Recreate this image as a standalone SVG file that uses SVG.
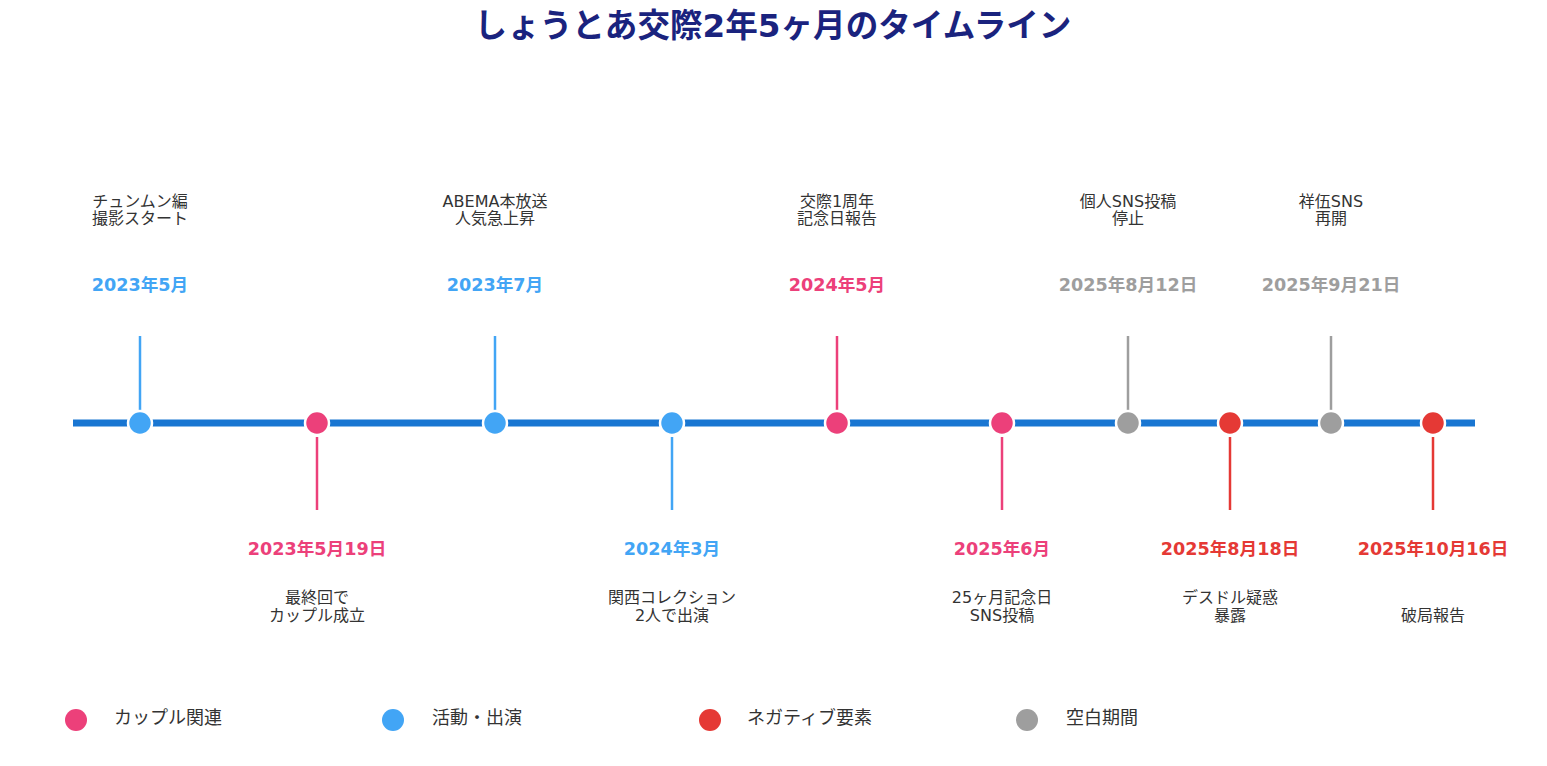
<svg xmlns="http://www.w3.org/2000/svg" width="1547" height="766" viewBox="0 0 1547 766">
<style>
text{font-family:"DejaVu Sans","Noto Sans CJK JP",sans-serif;text-anchor:middle}
.title{font-size:32.6px;font-weight:bold;fill:#1A237E}
.date{font-size:17.6px;font-weight:bold}
.desc{font-size:16px;fill:#333}
.leg{font-size:18px;fill:#333;text-anchor:start}
.pink{fill:#EC407A}.blue{fill:#42A5F5}.red{fill:#E53935}.gray{fill:#9E9E9E}
.spink{stroke:#EC407A}.sblue{stroke:#42A5F5}.sred{stroke:#E53935}.sgray{stroke:#9E9E9E}
.stem{stroke-width:2.5}
.dot{stroke:#fff;stroke-width:2.5}
</style>
<rect width="1547" height="766" fill="#fff"/>
<text class="title" x="773" y="37">しょうとあ交際2年5ヶ月のタイムライン</text>
<g id="connectors">
<line x1="73" y1="423" x2="1475" y2="423" stroke="#1976D2" stroke-width="7"/>
<line class="stem sblue" x1="140" y1="336" x2="140" y2="410"/>
<line class="stem spink" x1="317" y1="437" x2="317" y2="510"/>
<line class="stem sblue" x1="495" y1="336" x2="495" y2="410"/>
<line class="stem sblue" x1="672" y1="437" x2="672" y2="510"/>
<line class="stem spink" x1="837" y1="336" x2="837" y2="410"/>
<line class="stem spink" x1="1002" y1="437" x2="1002" y2="510"/>
<line class="stem sgray" x1="1128" y1="336" x2="1128" y2="410"/>
<line class="stem sred" x1="1230" y1="437" x2="1230" y2="510"/>
<line class="stem sgray" x1="1331" y1="336" x2="1331" y2="410"/>
<line class="stem sred" x1="1433" y1="437" x2="1433" y2="510"/>
</g>
<g id="e1"><circle class="dot blue" cx="140" cy="423" r="12"/><text class="date blue" x="140" y="291">2023年5月</text><text class="desc" x="140" y="207">チュンムン編</text><text class="desc" x="140" y="224">撮影スタート</text></g>
<g id="e2"><circle class="dot pink" cx="317" cy="423" r="12"/><text class="date pink" x="317" y="555">2023年5月19日</text><text class="desc" x="317" y="603">最終回で</text><text class="desc" x="317" y="621">カップル成立</text></g>
<g id="e3"><circle class="dot blue" cx="495" cy="423" r="12"/><text class="date blue" x="495" y="291">2023年7月</text><text class="desc" x="495" y="207">ABEMA本放送</text><text class="desc" x="495" y="224">人気急上昇</text></g>
<g id="e4"><circle class="dot blue" cx="672" cy="423" r="12"/><text class="date blue" x="672" y="555">2024年3月</text><text class="desc" x="672" y="603">関西コレクション</text><text class="desc" x="672" y="621">2人で出演</text></g>
<g id="e5"><circle class="dot pink" cx="837" cy="423" r="12"/><text class="date pink" x="837" y="291">2024年5月</text><text class="desc" x="837" y="207">交際1周年</text><text class="desc" x="837" y="224">記念日報告</text></g>
<g id="e6"><circle class="dot pink" cx="1002" cy="423" r="12"/><text class="date pink" x="1002" y="555">2025年6月</text><text class="desc" x="1002" y="603">25ヶ月記念日</text><text class="desc" x="1002" y="621">SNS投稿</text></g>
<g id="e7"><circle class="dot gray" cx="1128" cy="423" r="12"/><text class="date gray" x="1128" y="291">2025年8月12日</text><text class="desc" x="1128" y="207">個人SNS投稿</text><text class="desc" x="1128" y="224">停止</text></g>
<g id="e8"><circle class="dot red" cx="1230" cy="423" r="12"/><text class="date red" x="1230" y="555">2025年8月18日</text><text class="desc" x="1230" y="603">デスドル疑惑</text><text class="desc" x="1230" y="621">暴露</text></g>
<g id="e9"><circle class="dot gray" cx="1331" cy="423" r="12"/><text class="date gray" x="1331" y="291">2025年9月21日</text><text class="desc" x="1331" y="207">祥伍SNS</text><text class="desc" x="1331" y="224">再開</text></g>
<g id="e10"><circle class="dot red" cx="1433" cy="423" r="12"/><text class="date red" x="1433" y="555">2025年10月16日</text><text class="desc" x="1433" y="621">破局報告</text></g>
<g id="legend">
<circle class="pink" cx="76" cy="720" r="11"/><text class="leg" x="114" y="724">カップル関連</text>
<circle class="blue" cx="393" cy="720" r="11"/><text class="leg" x="432" y="724">活動・出演</text>
<circle class="red" cx="710" cy="720" r="11"/><text class="leg" x="747" y="724">ネガティブ要素</text>
<circle class="gray" cx="1027" cy="720" r="11"/><text class="leg" x="1066" y="724">空白期間</text>
</g>
</svg>
